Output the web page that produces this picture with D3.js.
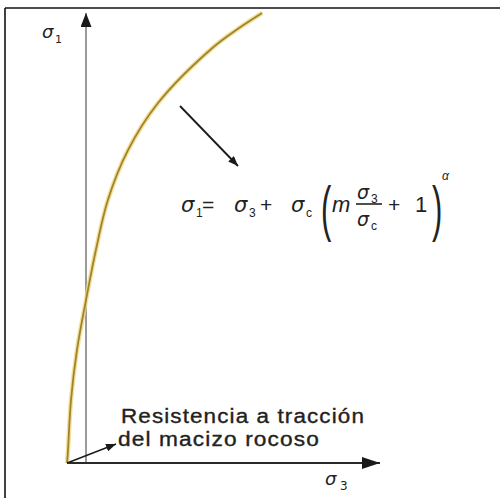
<!DOCTYPE html>
<html>
<head>
<meta charset="utf-8">
<script src="https://cdn.jsdelivr.net/npm/d3@7"></script>
<style>
  html, body { margin: 0; padding: 0; background: #fff; }
  svg { display: block; }
  text { font-family: "Liberation Sans", Arial, sans-serif; fill: #222; }
  .sym { font-family: "DejaVu Sans", "Liberation Sans", sans-serif; }
</style>
</head>
<body>
<svg id="chart" width="500" height="498"></svg>
<script>
// Hoek-Brown style failure envelope: sigma3 (confining stress) vs sigma1 (major principal stress)
const sigma3 = [-0.63, -0.60, -0.50, -0.30, 0.00, 0.33, 0.73, 1.40, 2.40, 4.23, 5.03, 5.87];
const sigma1 = [0.00, 0.43, 2.10, 3.77, 5.43, 7.10, 8.77, 10.43, 12.00, 13.85, 14.45, 15.00];

// Axis extents in stress units
const xAxisExtent = [-0.63, 9.8];
const yAxisExtent = [0, 15];

// Labels
const yLabel = ["σ", "1"];
const xLabel = ["σ", "3"];
const noteLines = ["Resistencia a tracción", "del macizo rocoso"];

const svg = d3.select("#chart");

const x = d3.scaleLinear().domain([0, 10]).range([86, 386]);
const y = d3.scaleLinear().domain([0, 15]).range([463, 13]);

// Frame (top and left edges)
svg.append("line").attr("x1", 5).attr("y1", 8).attr("x2", 500).attr("y2", 8)
  .attr("stroke", "#111").attr("stroke-width", 1.6);
svg.append("line").attr("x1", 5).attr("y1", 8).attr("x2", 5).attr("y2", 498)
  .attr("stroke", "#111").attr("stroke-width", 1.6);

const defs = svg.append("defs");
function arrowMarker(id, color, w, h) {
  defs.append("marker")
    .attr("id", id)
    .attr("viewBox", `0 0 ${w} ${h}`)
    .attr("refX", w).attr("refY", h / 2)
    .attr("markerWidth", w).attr("markerHeight", h)
    .attr("markerUnits", "userSpaceOnUse")
    .attr("orient", "auto")
    .append("path")
    .attr("d", `M0,0 L${w},${h / 2} L0,${h} Z`)
    .attr("fill", color);
}
arrowMarker("xHead", "#1a1a1a", 18, 12);
arrowMarker("yHead", "#1a1a1a", 14, 11);
arrowMarker("smallHead", "#1a1a1a", 10, 8);

// Vertical axis (sigma1)
svg.append("line")
  .attr("x1", x(0)).attr("y1", y(yAxisExtent[0]))
  .attr("x2", x(0)).attr("y2", y(yAxisExtent[1]))
  .attr("stroke", "#9a9a9a").attr("stroke-width", 2)
  .attr("marker-end", "url(#yHead)");

// Horizontal axis (sigma3)
svg.append("line")
  .attr("x1", x(xAxisExtent[0])).attr("y1", y(0))
  .attr("x2", x(xAxisExtent[1])).attr("y2", y(0))
  .attr("stroke", "#2a2a2a").attr("stroke-width", 2)
  .attr("marker-end", "url(#xHead)");

// Failure envelope
const pts = sigma3.map((d, i) => [d, sigma1[i]]);
const line = d3.line().x(d => x(d[0])).y(d => y(d[1])).curve(d3.curveCatmullRom.alpha(0.5));
svg.append("path").attr("d", line(pts))
  .attr("fill", "none").attr("stroke", "#f2d77c").attr("stroke-width", 4.5).attr("stroke-opacity", 0.8);
svg.append("path").attr("d", line(pts))
  .attr("fill", "none").attr("stroke", "#9c8430").attr("stroke-width", 1.8);

// Axis labels
const yl = svg.append("text").attr("class", "sym").attr("x", 42).attr("y", 38).attr("font-size", 18).attr("font-style", "italic");
yl.append("tspan").text(yLabel[0]);
yl.append("tspan").attr("x", 55).attr("y", 43).attr("font-size", 11).attr("font-style", "normal").text(yLabel[1]);

const xl = svg.append("text").attr("class", "sym").attr("x", 325).attr("y", 485).attr("font-size", 18).attr("font-style", "italic");
xl.append("tspan").text(xLabel[0]);
xl.append("tspan").attr("x", 340).attr("y", 490).attr("font-size", 12).attr("font-style", "normal").text(xLabel[1]);

// Pointer from the envelope to the formula
svg.append("line").attr("x1", 180).attr("y1", 106).attr("x2", 238).attr("y2", 166)
  .attr("stroke", "#1a1a1a").attr("stroke-width", 1.8)
  .attr("marker-end", "url(#smallHead)");

// Formula
const f = svg.append("g");
function t(txt, px, py, size, italic, cls) {
  return f.append("text").attr("x", px).attr("y", py).attr("font-size", size)
    .attr("class", cls || null)
    .attr("font-style", italic ? "italic" : "normal").text(txt);
}
t("σ", 181, 212, 21, true, "sym");
t("1", 196, 217, 12, false);
t("=", 202, 212, 21, false);
t("σ", 234, 212, 21, true, "sym");
t("3", 249, 217, 12, false);
t("+", 260, 212, 21, false);
t("σ", 291, 212, 21, true, "sym");
t("c", 306, 217, 12, false);
t("(", 0, 0, 62, false).attr("transform", "translate(321,229) scale(0.5,1)");
t("m", 332, 212, 22, true);
t("σ", 357, 199, 19, true, "sym");
t("3", 371, 203, 12, false);
f.append("line").attr("x1", 356).attr("x2", 382).attr("y1", 204).attr("y2", 204)
  .attr("stroke", "#222").attr("stroke-width", 1.6);
t("σ", 357, 226, 19, true, "sym");
t("c", 371, 230, 12, false);
t("+", 388, 212, 21, false);
t("1", 415, 212, 22, false);
t(")", 0, 0, 62, false).attr("transform", "translate(432,229) scale(0.5,1)");
t("α", 442, 180, 12, true);

// Tensile strength note with pointer to the envelope origin
svg.append("line")
  .attr("x1", x(sigma3[0])).attr("y1", y(sigma1[0]))
  .attr("x2", 116).attr("y2", 444)
  .attr("stroke", "#1a1a1a").attr("stroke-width", 1.4)
  .attr("marker-end", "url(#smallHead)");

svg.append("text").attr("x", 121).attr("y", 423).attr("font-size", 20)
  .attr("letter-spacing", 1).attr("stroke", "#222").attr("stroke-width", 0.35)
  .attr("textLength", 244).attr("lengthAdjust", "spacingAndGlyphs").text(noteLines[0]);
svg.append("text").attr("x", 118).attr("y", 446).attr("font-size", 20)
  .attr("letter-spacing", 1).attr("stroke", "#222").attr("stroke-width", 0.35)
  .attr("textLength", 202).attr("lengthAdjust", "spacingAndGlyphs").text(noteLines[1]);
</script>
</body>
</html>
